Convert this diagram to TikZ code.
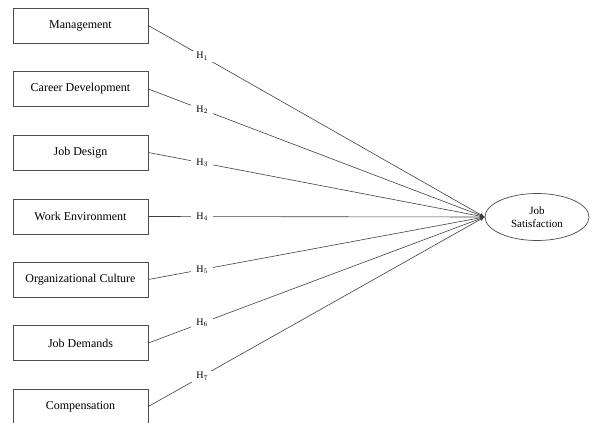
\documentclass[tikz,border=0pt]{standalone}
\usepackage{xcolor}
\usepackage{fontspec}
\setmainfont{Liberation Serif}
\usepackage{tikz}
\usetikzlibrary{positioning, calc, shapes, arrows}

\tikzset{
	factor/.style={draw=black!70, line width=0.7pt, minimum width=135pt, minimum height=35pt, inner sep=0pt, font=\fontsize{12}{14}\selectfont},
	outcome/.style={draw=black!70, line width=0.7pt, ellipse, minimum width=104pt, minimum height=47pt, inner sep=0pt, align=center, font=\fontsize{11}{13}\selectfont},
	hyp/.style={fill=white, inner xsep=5pt, inner ysep=1.5pt, font=\fontsize{10}{11}\selectfont, pos=0.16},
	path/.style={draw=black!75, line width=0.6pt, -latex}
}

\begin{document}
\begin{tikzpicture}[x=1pt, y=-1pt]
	\useasboundingbox (0,0) rectangle (592,423);

	\node[factor] (f1) at (80.5,25.5) {Management};
	\node[factor] (f2) at (80.5,89) {Career Development};
	\node[factor] (f3) at (80.5,152.5) {Job Design};
	\node[factor] (f4) at (80.5,216.5) {Work Environment};
	\node[factor] (f5) at (80.5,279.5) {Organizational Culture};
	\node[factor] (f6) at (80.5,343) {Job Demands};
	\node[factor] (f7) at (80.5,406.5) {Compensation};

	\node[outcome] (js) at (537,217) {Job\\Satisfaction};

	\foreach \i in {1,...,7}
		\draw[path] (f\i.east) -- node[hyp] {H$_{\i}$} (js.west);
\end{tikzpicture}
\end{document}
